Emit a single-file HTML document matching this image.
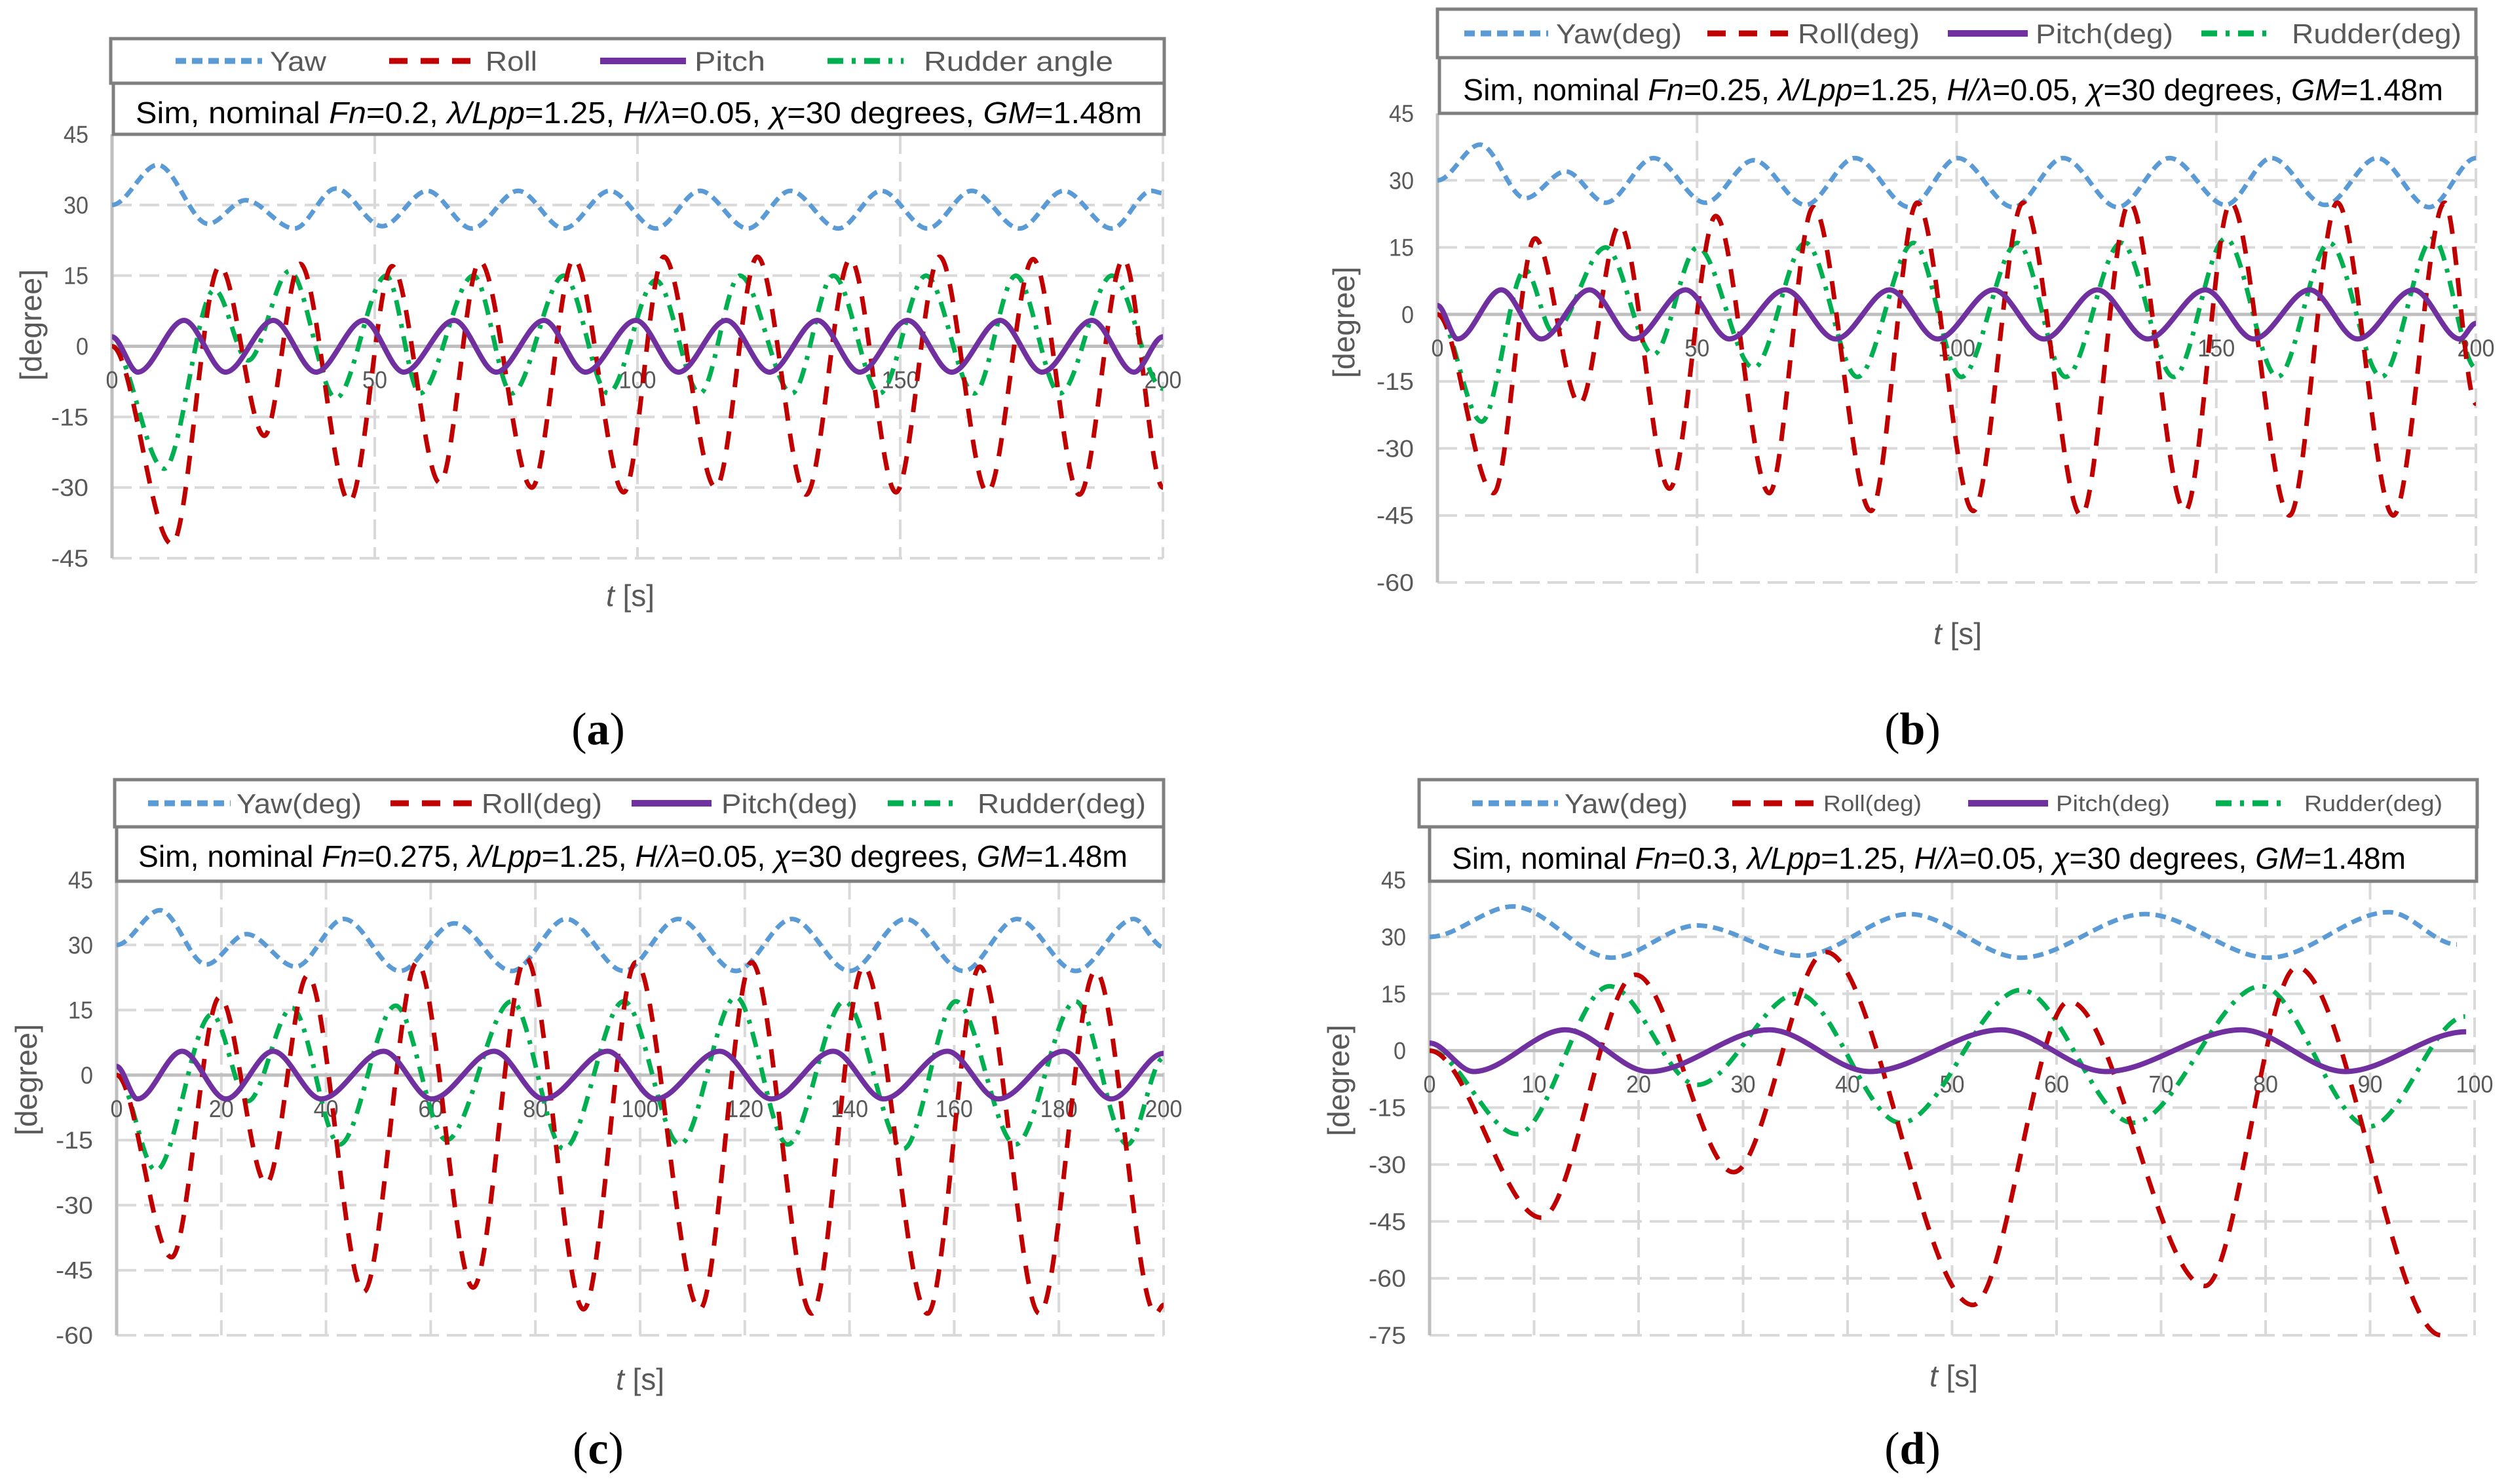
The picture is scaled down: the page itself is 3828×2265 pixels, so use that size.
<!DOCTYPE html>
<html><head><meta charset="utf-8"><style>
html,body{margin:0;padding:0;background:#fff;}
svg{display:block;}
</style></head><body>
<svg id="fig" xmlns="http://www.w3.org/2000/svg" width="3828" height="2265" viewBox="0 0 3828 2265" font-family="Liberation Sans, sans-serif">
<rect x="0" y="0" width="3828" height="2265" fill="#fff"/>
</svg>
<script>
// ---- data (t [s], value [deg]) ----
const aYawT=[0,8.7,18.3,25.4,34.7,42.6,51.4,60.0,68.5,77.3,86.0,94.7,103.5,111.9,121,129.1,138.2,146.4,155.2,163.6,172.7,181.1,190.3,197.8,200];
const aYawV=[30,38.5,26,31,25,33.5,25.5,33,25,33,25,33,25,33,25,33,25,33,25,33,25,33,25,33,32.5];
const aPitchT=[0,4.9,13.7,21.6,30.7,38.8,47.9,55.5,65.1,73.1,82.2,90.1,99.7,107.8,116.9,125.1,134.2,142.3,151.4,159.8,169.0,177.0,186.5,194.5,200];
const aPitchV=[2,-5.5,5.5,-5.5,5.5,-5.5,5.5,-5.5,5.5,-5.5,5.5,-5.5,5.5,-5.5,5.5,-5.5,5.5,-5.5,5.5,-5.5,5.5,-5.5,5.5,-5.5,2];
const aRollT=[0,11.4,20.5,29.0,35.8,45.2,53.3,62.4,70.0,79.9,87.9,97.4,105.0,114.9,122.8,132.1,140.5,149.2,157.5,166.6,175.3,184.1,192.5,200];
const aRollV=[0,-42,17,-19,17.5,-33,17,-29,18,-30,18.5,-31,19,-30,19,-31.5,18.5,-31,19,-31,18.5,-31.5,18.5,-30];
const aRudT=[0,9.9,19.5,25.9,33.8,42.6,52.2,58.6,68.8,76.1,86.0,94.4,103.5,111.9,119.5,129.4,137.3,146.1,154.9,164.1,172.0,180.4,190.3,200];
const aRudV=[0,-26,12,-3,16,-11,15,-10,15,-10,15,-10,14,-10,15,-10,15,-10,15,-10,15,-10,15,-9];

const bYawT=[0,8.2,16.9,24.7,32.4,41.6,51.6,60.9,70.9,80.4,90.9,100.2,110.9,120.5,131,141,151.8,160.6,171,181,191,200];
const bYawV=[30,38,26,32,25,35,25,34.5,24.5,35,24,35,24,35,24,35,24.5,35,24.5,35,24,35];
const bPitchT=[0,3.9,12.3,20.0,29.3,37.8,47.8,56.2,67.0,76.7,87.1,96.3,107.1,116.8,127.1,136.8,147.9,157.2,168,177.2,188,196.9,200];
const bPitchV=[2,-5.5,5.5,-5.5,5.5,-5.5,5.5,-5.5,5.5,-5.5,5.5,-5.5,5.5,-5.5,5.5,-5.5,5.5,-5.5,5.5,-5.5,5.5,-5.5,-2];
const bRollT=[0,10.8,18.8,27.4,35.1,44.7,53.6,63.9,72.4,83.5,92.4,103.2,112.8,124,133.3,144,152.8,164.1,173.3,184.1,194,200];
const bRollV=[0,-40,17,-20,20,-39,22,-40,24,-44,25,-44,25,-45,25,-44,25,-45,25,-45,25,-20];
const bRudT=[0,8.5,16.9,22.3,32.4,41.6,50.1,60.9,70.9,80.9,91.7,100.9,111.7,121,131.7,141.8,151.8,161.8,171.8,181.8,191.8,200];
const bRudV=[0,-24,10,-4,15,-9,15,-12,16,-14,16,-14,16,-14,16,-14,17,-14,16,-14,17,-12];

const cYawT=[0,8.3,17.1,24.8,34.2,43.4,54.1,64.5,75.5,85.9,96.9,107.3,118.3,129,140,150.7,161.8,172,183.2,194.3,200];
const cYawV=[30,38,25.5,32.5,25,36,24,35,24,36,24,36,24,36,24,36,24,36,24,36,29.5];
const cPitchT=[0,4.0,12.5,20.9,29.9,39.1,51.0,60.2,72.1,81.6,93.8,103,115.2,125.1,136.9,146.5,158.7,168.4,180.9,190,200];
const cPitchV=[2,-5.5,5.5,-5.5,5.5,-5.5,5.5,-5.5,5.5,-5.5,5.5,-5.5,5.5,-5.5,5.5,-5.5,5.5,-5.5,5.5,-5.5,5];
const cRollT=[0,10.5,19.7,28.6,36.5,47.2,57.4,68.1,78.2,89.2,99.2,111.4,121.3,132.8,142.7,154.9,164.9,176.3,187,198.5,200];
const cRollV=[0,-42,18,-25,23,-50,26,-49,27,-54,26,-54,26,-55,25,-55,25,-55,24,-55,-53];
const cRudT=[0,7.5,18.2,25.1,33.5,42.6,53.3,63,75.5,85.4,96.9,107.6,118.3,128.2,139,150.3,160.3,171.7,183.2,193.1,200];
const cRudV=[0,-22,14,-6,15.5,-16,16,-15,17,-17,17,-16,18,-16,17,-17,17,-16,17,-16,4];

const dYawT=[0,8.0,17.4,25.6,35.6,45.9,56.6,68.5,80.3,91.8,98.3];
const dYawV=[30,38,24.5,33,25,36,24.5,36,24.5,36.5,28];
const dPitchT=[0,4.2,13.0,21.0,32.5,42.1,54.7,64.7,77.7,87.6,99.2];
const dPitchV=[2,-5.5,5.5,-5.5,5.5,-5.5,5.5,-5.5,5.5,-5.5,5];
const dRollT=[0,10.7,19.7,29.1,37.9,52.0,61.2,74.2,83.0,96.8];
const dRollV=[0,-44,20,-32,26,-67,13,-62,22,-75];
const dRudT=[0,8.4,17.2,25.6,35.2,45.1,56.6,67.3,79.6,89.9,99.1];
const dRudV=[0,-22,17,-9,15,-19,16,-19,17,-20,9];

const yTicksA=[45,30,15,0,-15,-30,-45];
const yTicksB=[45,30,15,0,-15,-30,-45,-60];
const yTicksD=[45,30,15,0,-15,-30,-45,-60,-75];
const xTicks200by50=[0,50,100,150,200];
const xTicks200by20=[0,20,40,60,80,100,120,140,160,180,200];
const xTicks100by10=[0,10,20,30,40,50,60,70,80,90,100];

const NS="http://www.w3.org/2000/svg";
const svg=document.getElementById('fig');
function mk(tag,attrs,parent){const e=document.createElementNS(NS,tag);for(const k in attrs)e.setAttribute(k,attrs[k]);(parent||svg).appendChild(e);return e;}

const STY={
 yaw:{stroke:'#5b9bd5',w:7,dash:'16 9'},
 roll:{stroke:'#c00000',w:7,dash:'28 20'},
 pitch:{stroke:'#7030a0',w:8,dash:''},
 rud:{stroke:'#00b050',w:7,dash:'24 13 6 13'}
};

function monoPath(P){
 const n=P.length;if(n<2)return '';
 const dx=[],m=[];
 for(let i=0;i<n-1;i++){dx.push(P[i+1][0]-P[i][0]);m.push((P[i+1][1]-P[i][1])/dx[i]);}
 const t=new Array(n);
 t[0]=0;t[n-1]=0;
 for(let i=1;i<n-1;i++){ if(m[i-1]*m[i]<=0)t[i]=0; else {const w1=2*dx[i]+dx[i-1],w2=dx[i]+2*dx[i-1];t[i]=(w1+w2)/(w1/m[i-1]+w2/m[i]);} }
 let d='M'+P[0][0].toFixed(1)+','+P[0][1].toFixed(1);
 for(let i=0;i<n-1;i++){const h=dx[i]/3;
  d+=' C'+(P[i][0]+h).toFixed(1)+','+(P[i][1]+t[i]*h).toFixed(1)+' '+(P[i+1][0]-h).toFixed(1)+','+(P[i+1][1]-t[i+1]*h).toFixed(1)+' '+P[i+1][0].toFixed(1)+','+P[i+1][1].toFixed(1);}
 return d;
}

function panel(cfg){
 const g=mk('g',{});
 
 
 const X=t=>cfg.x0+(t/cfg.tmax)*(cfg.x1-cfg.x0);
 const Y=v=>cfg.yT+(cfg.vT-v)/(cfg.vT-cfg.vB)*(cfg.yB-cfg.yT);
 cfg.yticks.forEach(v=>{ if(v===0||v===cfg.vT)return;
  const l=mk('line',{x1:cfg.x0,x2:cfg.x1,y1:Y(v),y2:Y(v),stroke:'#d9d9d9','stroke-width':4,'stroke-dasharray':'30 12'},g);
  
  });
 cfg.xticks.forEach(t=>{ if(t===0)return;
  const l=mk('line',{x1:X(t),x2:X(t),y1:cfg.yT,y2:cfg.yB,stroke:'#d9d9d9','stroke-width':4,'stroke-dasharray':'30 12'},g);
  
  });
 const ax=mk('line',{x1:cfg.x0,x2:cfg.x0,y1:cfg.yT,y2:cfg.yB,stroke:'#bfbfbf','stroke-width':5},g);
 
 
 const zl=mk('line',{x1:cfg.x0,x2:cfg.x1,y1:Y(0),y2:Y(0),stroke:'#bfbfbf','stroke-width':5},g);
 
 
 cfg.yticks.forEach(v=>{const tx=mk('text',{x:cfg.x0-36,y:Y(v)+13,'text-anchor':'end','font-size':37,fill:'#595959',textLength:String(v).length*19,lengthAdjust:'spacingAndGlyphs'},g);tx.textContent=String(v);
  
  });
 cfg.xticks.forEach(t=>{const tx=mk('text',{x:X(t),y:Y(0)+64,'text-anchor':'middle','font-size':37,fill:'#595959',textLength:String(t).length*19,lengthAdjust:'spacingAndGlyphs'},g);tx.textContent=String(t);
  
  });
 cfg.series.forEach(s=>{const st=STY[s.k];const P=s.t.map((t,i)=>[X(t),Y(s.v[i])]);
  const p=mk('path',{d:monoPath(P),fill:'none',stroke:st.stroke,'stroke-width':st.w,'stroke-dasharray':st.dash,'stroke-linejoin':'round'},g);
  
  });
 const L=cfg.legend;
 const lb=mk('rect',{x:L.x,y:L.y,width:L.w,height:L.h,fill:'#fff',stroke:'#7f7f7f','stroke-width':5},g);
 
 
 const cy=L.y+L.h/2;
 L.items.forEach(it=>{const st=STY[it.k];
  const ln=mk('line',{x1:it.lx1,x2:it.lx2,y1:cy,y2:cy,stroke:st.stroke,'stroke-width':st.w+2,'stroke-dasharray':st.dash},g);
  
  
  const tx=mk('text',{x:it.tx,y:cy+it.fs*0.36,'font-size':it.fs,fill:'#595959',textLength:it.tw,lengthAdjust:'spacingAndGlyphs'},g);
  tx.textContent=it.label;
  
  });
 const I=cfg.info;
 const ib=mk('rect',{x:I.x,y:I.y,width:I.w,height:I.h,fill:'#fff',stroke:'#7f7f7f','stroke-width':5},g);
 
 
 const it=mk('text',{x:I.tx,y:I.ty+16,'font-size':46,fill:'#000',textLength:I.tw,lengthAdjust:'spacingAndGlyphs'},g);
 
 
 const parts=[['Sim, nominal ',0],['Fn',1],['='+cfg.fn+', ',0],['λ/Lpp',1],['=1.25, ',0],['H/λ',1],['=0.05, ',0],['χ',1],['=30 degrees, ',0],['GM',1],['=1.48m',0]];
 parts.forEach(p=>{const ts=mk('tspan',p[1]?{'font-style':'italic'}:{},it);ts.textContent=p[0];});
 const xt=mk('text',{x:cfg.xtx,y:cfg.xty+16,'text-anchor':'middle','font-size':46,fill:'#595959'},g);
 
 
 const t1=mk('tspan',{'font-style':'italic'},xt);t1.textContent='t';
 const t2=mk('tspan',{},xt);t2.textContent=' [s]';
 const yt=mk('text',{x:0,y:0,'text-anchor':'middle','font-size':46,fill:'#595959',transform:'translate('+(cfg.ytx+16)+','+cfg.yty+') rotate(-90)',textLength:170,lengthAdjust:'spacingAndGlyphs'},g);
 yt.textContent='[degree]';
 
 
 const cp=mk('text',{x:cfg.capx,y:cfg.capy+24,'text-anchor':'middle','font-size':70,fill:'#000','font-family':'Liberation Serif, serif'},g);
 
 
 const c1=mk('tspan',{},cp);c1.textContent='(';
 const c2=mk('tspan',{'font-weight':'bold'},cp);c2.textContent=cfg.id;
 const c3=mk('tspan',{},cp);c3.textContent=')';
}

function legendItems(arr){return arr.map(a=>({k:a[0],lx1:a[1],lx2:a[2],tx:a[3],tw:a[4],label:a[5],fs:a[6]}));}

panel({id:'a',fn:'0.2',x0:171,x1:1775,tmax:200,yT:205,vT:45,yB:852,vB:-45,yticks:yTicksA,xticks:xTicks200by50,
 series:[{k:'yaw',t:aYawT,v:aYawV},{k:'rud',t:aRudT,v:aRudV},{k:'roll',t:aRollT,v:aRollV},{k:'pitch',t:aPitchT,v:aPitchV}],
 legend:{x:169,y:59,w:1608,h:68,items:legendItems([['yaw',268,400,412,86,'Yaw',42],['roll',594,729,741,79,'Roll',42],['pitch',916,1047,1060,108,'Pitch',42],['rud',1263,1379,1410,289,'Rudder angle',42]])},
 info:{x:173,y:127,w:1604,h:78,tx:207,ty:172,tw:1536},
 xtx:962,xty:909,ytx:47,yty:496,capx:913,capy:1112});

panel({id:'b',fn:'0.25',x0:2194,x1:3779,tmax:200,yT:173,vT:45,yB:889,vB:-60,yticks:yTicksB,xticks:xTicks200by50,
 series:[{k:'yaw',t:bYawT,v:bYawV},{k:'rud',t:bRudT,v:bRudV},{k:'roll',t:bRollT,v:bRollV},{k:'pitch',t:bPitchT,v:bPitchV}],
 legend:{x:2194,y:14,w:1585,h:74,items:legendItems([['yaw',2235,2363,2375,192,'Yaw(deg)',42],['roll',2606,2729,2744,186,'Roll(deg)',42],['pitch',2973,3095,3107,210,'Pitch(deg)',42],['rud',3360,3466,3498,259,'Rudder(deg)',42]])},
 info:{x:2197,y:88,w:1583,h:85,tx:2233,ty:137,tw:1496},
 xtx:2988,xty:967,ytx:2051,yty:492,capx:2919,capy:1112});

panel({id:'c',fn:'0.275',x0:178,x1:1776,tmax:200,yT:1343,vT:45,yB:2038,vB:-60,yticks:yTicksB,xticks:xTicks200by20,
 series:[{k:'yaw',t:cYawT,v:cYawV},{k:'rud',t:cRudT,v:cRudV},{k:'roll',t:cRollT,v:cRollV},{k:'pitch',t:cPitchT,v:cPitchV}],
 legend:{x:175,y:1190,w:1601,h:72,items:legendItems([['yaw',226,352,361,191,'Yaw(deg)',42],['roll',596,723,735,184,'Roll(deg)',42],['pitch',964,1086,1101,208,'Pitch(deg)',42],['rud',1355,1459,1492,257,'Rudder(deg)',42]])},
 info:{x:178,y:1262,w:1598,h:83,tx:211,ty:1307,tw:1510},
 xtx:977,xty:2105,ytx:40,yty:1648,capx:913,capy:2210});

panel({id:'d',fn:'0.3',x0:2182,x1:3777,tmax:100,yT:1343,vT:45,yB:2038,vB:-75,yticks:yTicksD,xticks:xTicks100by10,
 series:[{k:'yaw',t:dYawT,v:dYawV},{k:'rud',t:dRudT,v:dRudV},{k:'roll',t:dRollT,v:dRollV},{k:'pitch',t:dPitchT,v:dPitchV}],
 legend:{x:2166,y:1190,w:1615,h:72,items:legendItems([['yaw',2247,2378,2388,188,'Yaw(deg)',42],['roll',2644,2769,2783,150,'Roll(deg)',34],['pitch',3004,3126,3138,174,'Pitch(deg)',34],['rud',3382,3489,3517,211,'Rudder(deg)',34]])},
 info:{x:2182,y:1262,w:1598,h:83,tx:2216,ty:1310,tw:1456},
 xtx:2982,xty:2100,ytx:2043,yty:1649,capx:2919,capy:2210});
</script>
</body></html>
